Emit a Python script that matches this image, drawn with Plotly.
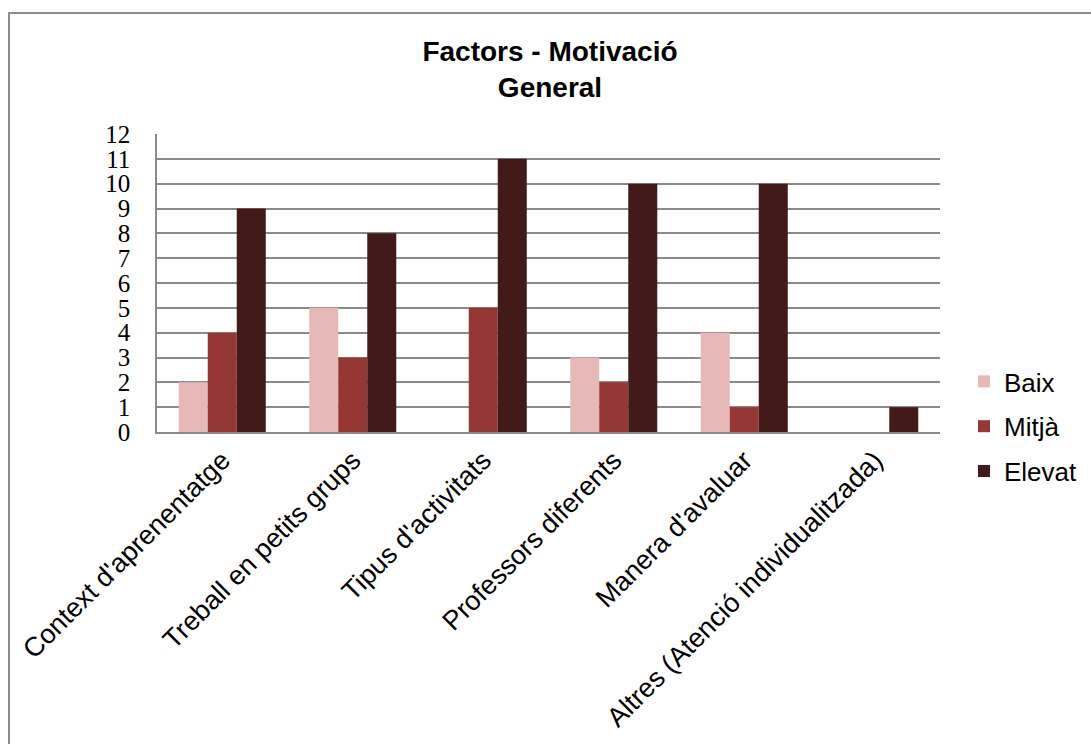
import plotly.graph_objects as go

# Factors that affect motivation, counted by level
categories = [
    "Context d'aprenentatge",
    "Treball en petits grups",
    "Tipus d'activitats",
    "Professors diferents",
    "Manera d'avaluar",
    "Altres (Atenció individualitzada)",
]
baix = [2, 5, 0, 3, 4, 0]
mitja = [4, 3, 5, 2, 1, 0]
elevat = [9, 8, 11, 10, 10, 1]

series_names = ["Baix", "Mitjà", "Elevat"]
series_values = [baix, mitja, elevat]
series_colors = ["#E6B9B8", "#953735", "#421A1A"]

y_ticks = list(range(0, 13))

W, H = 1091, 744
L, R, T, B = 157, 151, 134, 312
pw, ph = W - L - R, H - T - B

fig = go.Figure()
for name, vals, col in zip(series_names, series_values, series_colors):
    fig.add_trace(go.Bar(
        name=name, x=categories, y=vals,
        marker=dict(color=col, line=dict(width=0)),
        legendgroup=name,
    ))

# outer chart frame (top and left edges visible in the page)
fx0 = (9 - L) / pw
fx1 = (W + 20 - L) / pw
fy1 = (H - B - 13) / ph
fy0 = -(B + 20) / ph
fig.add_shape(type="rect", xref="paper", yref="paper",
              x0=fx0, x1=fx1, y0=fy0, y1=fy1,
              line=dict(color="#8C8C8C", width=2), layer="below")

fig.update_layout(
    width=W, height=H,
    margin=dict(l=L, r=R, t=T, b=B, autoexpand=False),
    paper_bgcolor="white", plot_bgcolor="white",
    barmode="group", bargap=0.333, bargroupgap=0,
    title=dict(
        text="<b>Factors - Motivació<br>General</b>",
        x=550 / W, xanchor="center",
        y=1 - 61 / H, yanchor="middle",
        font=dict(family="Liberation Sans, Arial", size=28, color="black"),
    ),
    legend=dict(
        x=(964 - L) / pw, xanchor="left",
        y=(H - B - 358) / ph, yanchor="top",
        font=dict(family="Liberation Sans, Arial", size=26, color="black"),
        tracegroupgap=8, traceorder="grouped",
        itemwidth=30, bgcolor="rgba(0,0,0,0)",
    ),
    showlegend=True,
)

fig.update_yaxes(
    range=[0, 12], tickvals=y_ticks, ticktext=[str(v) for v in y_ticks],
    showgrid=True, gridcolor="#8A8A8A", gridwidth=1.5,
    showline=True, linecolor="#8A8A8A", linewidth=1.5,
    ticks="", ticklabelstandoff=20,
    tickfont=dict(family="Liberation Serif, Times New Roman", size=25, color="black"),
    zeroline=False,
)
fig.update_xaxes(
    showline=True, linecolor="#8A8A8A", linewidth=1.5,
    tickangle=-45, ticks="",
    tickfont=dict(family="Liberation Sans, Arial", size=27, color="black"),
    showgrid=False,
)

fig.write_html("out.html")
